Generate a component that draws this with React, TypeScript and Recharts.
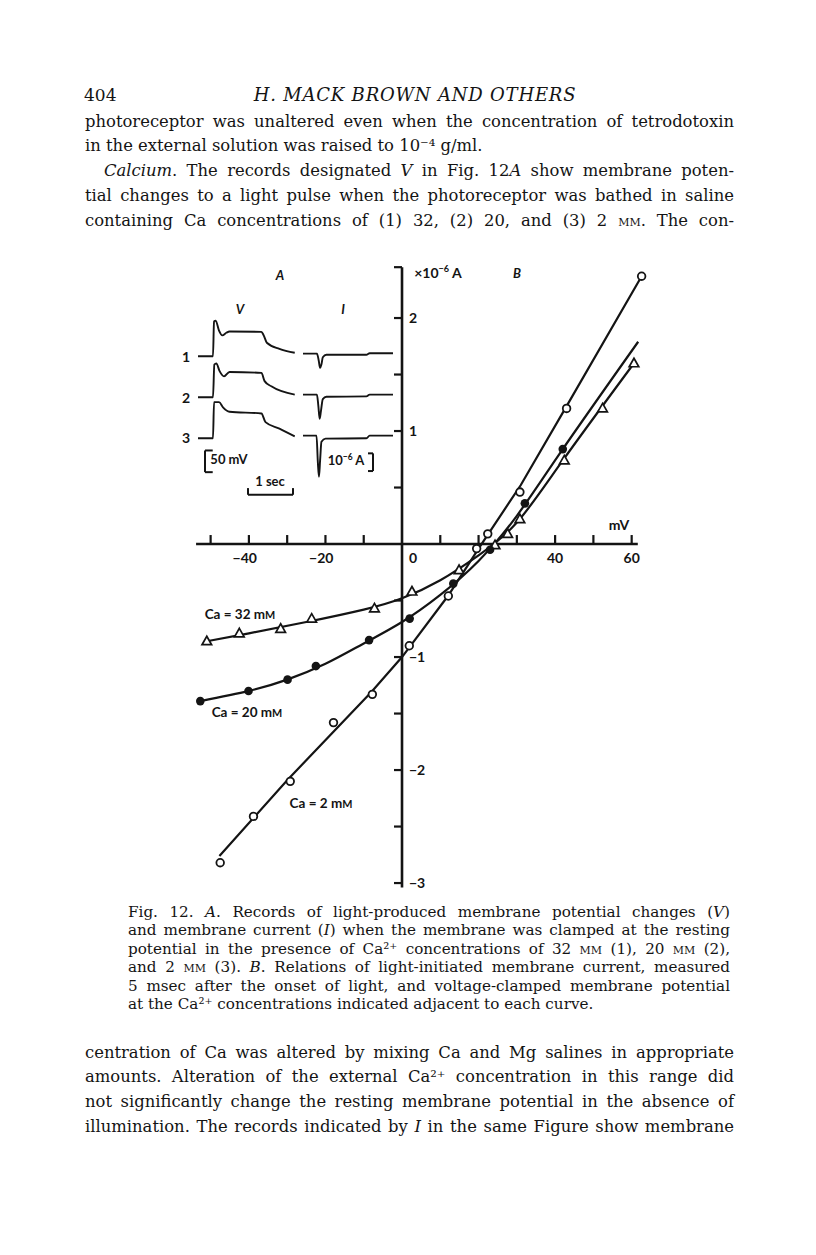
import React from 'react'
import {
  ComposedChart,
  LineChart,
  Line,
  Scatter,
  XAxis,
  YAxis,
  ReferenceLine,
  ReferenceDot,
} from 'recharts'

type Pair = [number, number]

// ---- Fig. 12B: light-initiated current (x10^-6 A) vs clamp potential (mV)
const ca32Points: Pair[] = [
  [-51, -0.86], [-42.5, -0.79], [-31.7, -0.75], [-23.6, -0.66], [-7.2, -0.57], [2.6, -0.42],
  [14.9, -0.23], [24.3, -0.01], [27.6, 0.09], [30.8, 0.22], [42.4, 0.74], [52.4, 1.2], [60.6, 1.6],
]
const ca20Points: Pair[] = [
  [-52.7, -1.39], [-40.1, -1.3], [-29.9, -1.2], [-22.5, -1.08], [-8.6, -0.85], [2, -0.66],
  [13.4, -0.35], [23, -0.05], [32.1, 0.36], [42, 0.84],
]
const ca2Points: Pair[] = [
  [-47.5, -2.82], [-38.8, -2.41], [-29.2, -2.1], [-17.9, -1.58], [-7.75, -1.33], [1.9, -0.9],
  [12.1, -0.46], [19.5, -0.04], [22.4, 0.09], [30.8, 0.46], [43, 1.2], [62.6, 2.37],
]
// hand-drawn curves through the points
const ca32Curve: Pair[] = [
  [-51, -0.86], [-40, -0.79], [-25, -0.69], [-10, -0.58], [0, -0.48], [10, -0.32],
  [20, -0.1], [30, 0.19], [42, 0.74], [60.6, 1.6],
]
const ca20Curve: Pair[] = [
  [-52.7, -1.39], [-40, -1.3], [-30, -1.2], [-20, -1.06], [-10, -0.88], [0, -0.69],
  [10, -0.45], [20, -0.15], [30, 0.25], [42, 0.84], [61.7, 1.79],
]
const ca2Curve: Pair[] = [
  [-47.7, -2.76], [-30, -2.09], [-8, -1.31], [0, -1.0], [12, -0.46], [20, -0.04],
  [31, 0.52], [43, 1.22], [62.6, 2.37],
]

const xTicks = [-50, -40, -30, -20, -10, 10, 20, 30, 40, 50, 60]
const xTickLabels = [-40, -20, 0, 40, 60]
const yTicks = [-3, -2.5, -2, -1.5, -1, -0.5, 0.5, 1, 1.5, 2, 2.45]
const yTickLabels = [2, 1, -1, -2, -3]

// ---- Fig. 12A: records, time in sec, V in mV above rest, I in 10^-6 A
const vTrace1: Pair[] = [
  [0, 0], [0.333, 0], [0.356, 80], [0.393, 82], [0.467, 59], [0.54, 48], [0.63, 54], [0.7, 57],
  [1.41, 56], [1.46, 48], [1.53, 31], [1.81, 17], [2.15, 8],
]
const vTrace2: Pair[] = [
  [0, 0], [0.333, 0], [0.363, 75], [0.407, 78], [0.48, 60], [0.578, 48], [0.7, 58], [1.41, 56],
  [1.48, 37], [1.63, 25], [2.15, 6],
]
const vTrace3: Pair[] = [
  [0, 0], [0.333, 0], [0.356, 83], [0.467, 83], [0.556, 71], [0.7, 61], [1.41, 57], [1.5, 37],
  [1.81, 22], [2.15, 4],
]
const iTrace1: Pair[] = [
  [0, 0], [0.31, 0], [0.35, -0.4], [0.378, -0.8], [0.41, -0.6], [0.44, -0.2], [0.52, -0.06],
  [1.41, -0.06], [1.48, 0.02], [2.0, 0.02],
]
const iTrace2: Pair[] = [
  [0, 0], [0.31, 0], [0.34, -0.6], [0.37, -1.36], [0.4, -0.9], [0.44, -0.25], [0.52, -0.12],
  [1.41, -0.1], [1.48, 0], [2.0, 0],
]
const iTrace3: Pair[] = [
  [0, 0], [0.3, 0], [0.33, -1.5], [0.355, -2.32], [0.38, -1.4], [0.41, -0.35], [0.5, -0.17],
  [1.41, -0.15], [1.48, 0], [2.0, 0],
]

const INK = '#141414'
const FIG_FONT = 'Lato, "Open Sans", sans-serif'
const TEXT_FONT = '"DejaVu Serif", serif'

const toXY = (pts: Pair[]) => pts.map(([x, y]) => ({ x, y }))

const OpenCircle = (p: any) => (
  <circle cx={p.cx} cy={p.cy} r={3.8} fill="#fff" stroke={INK} strokeWidth={1.8} />
)
const FilledCircle = (p: any) => <circle cx={p.cx} cy={p.cy} r={4.3} fill={INK} />
const OpenTriangle = (p: any) => (
  <path
    d={`M${p.cx},${p.cy - 5} L${p.cx + 4.8},${p.cy + 3.5} L${p.cx - 4.8},${p.cy + 3.5} Z`}
    fill="#fff"
    stroke={INK}
    strokeWidth={1.7}
  />
)

const fmt = (v: number) => (v < 0 ? `\u2212${-v}` : `${v}`)

function MainChart() {
  return (
    <div style={{ position: 'absolute', left: 180, top: 250 }}>
      <ComposedChart width={480} height={650} margin={{ top: 0, right: 0, bottom: 0, left: 0 }}>
        <XAxis type="number" dataKey="x" domain={[-58, 67.4]} hide />
        <YAxis type="number" dataKey="y" domain={[-3.15, 2.602]} hide />
        <ReferenceLine segment={[{ x: -53.8, y: 0 }, { x: 61.6, y: 0 }]} stroke={INK} strokeWidth={2.6} />
        <ReferenceLine segment={[{ x: 0, y: -3.04 }, { x: 0, y: 2.45 }]} stroke={INK} strokeWidth={2.6} />
        {xTicks.map((t) => (
          <ReferenceDot
            key={`xt${t}`}
            x={t}
            y={0}
            r={0}
            shape={(p: any) => (
              <line x1={p.cx} x2={p.cx} y1={p.cy} y2={p.cy - 9} stroke={INK} strokeWidth={2.2} />
            )}
          />
        ))}
        {yTicks.map((t) => (
          <ReferenceDot
            key={`yt${t}`}
            x={0}
            y={t}
            r={0}
            shape={(p: any) => (
              <line x1={p.cx} x2={p.cx - 8} y1={p.cy} y2={p.cy} stroke={INK} strokeWidth={2.2} />
            )}
          />
        ))}
        {xTickLabels.map((t) => (
          <ReferenceDot
            key={`xl${t}`}
            x={t}
            y={0}
            r={0}
            shape={(p: any) => (
              <text
                x={t < 0 ? p.cx + 8 : t === 0 ? p.cx + 7 : p.cx}
                y={p.cy + 19}
                textAnchor={t < 0 ? 'end' : t === 0 ? 'start' : 'middle'}
                fontFamily={FIG_FONT}
                fontWeight={700}
                fontSize={14}
                fill={INK}
              >
                {fmt(t)}
              </text>
            )}
          />
        ))}
        {yTickLabels.map((t) => (
          <ReferenceDot
            key={`yl${t}`}
            x={0}
            y={t}
            r={0}
            shape={(p: any) => (
              <text
                x={p.cx + 7}
                y={p.cy + 5}
                textAnchor="start"
                fontFamily={FIG_FONT}
                fontWeight={700}
                fontSize={14}
                fill={INK}
              >
                {fmt(t)}
              </text>
            )}
          />
        ))}
        <Line data={toXY(ca32Curve)} dataKey="y" type="natural" stroke={INK} strokeWidth={2.2} dot={false} isAnimationActive={false} />
        <Line data={toXY(ca20Curve)} dataKey="y" type="natural" stroke={INK} strokeWidth={2.2} dot={false} isAnimationActive={false} />
        <Line data={toXY(ca2Curve)} dataKey="y" type="linear" stroke={INK} strokeWidth={2.2} dot={false} isAnimationActive={false} />
        <Scatter data={toXY(ca32Points)} shape={OpenTriangle} isAnimationActive={false} />
        <Scatter data={toXY(ca20Points)} shape={FilledCircle} isAnimationActive={false} />
        <Scatter data={toXY(ca2Points)} shape={OpenCircle} isAnimationActive={false} />
      </ComposedChart>
    </div>
  )
}

// small record; zeroY is the page position of the trace's resting level
function Record({
  data, left, zeroY, tMax, yMin, yMax, pxT, pxY, children,
}: {
  data: Pair[]; left: number; zeroY: number; tMax: number; yMin: number; yMax: number
  pxT: number; pxY: number; children?: React.ReactNode
}) {
  const pad = 3
  const width = tMax * pxT + 2 * pad
  const height = (yMax - yMin) * pxY + 2 * pad
  const top = zeroY - yMax * pxY - pad
  return (
    <div style={{ position: 'absolute', left: left - pad, top }}>
      <LineChart width={width} height={height} data={toXY(data)} margin={{ top: pad, right: pad, bottom: pad, left: pad }}>
        <XAxis type="number" dataKey="x" domain={[0, tMax]} hide />
        <YAxis type="number" domain={[yMin, yMax]} hide />
        <Line dataKey="y" type="monotone" stroke={INK} strokeWidth={1.9} dot={false} isAnimationActive={false} />
        {children}
      </LineChart>
    </div>
  )
}

const V_PX_T = 45
const V_PX_MV = 0.434
const I_PX_UA = 17.7

function FigText({ x, y, size = 13, italic = false, children }: { x: number; y: number; size?: number; italic?: boolean; children: React.ReactNode }) {
  return (
    <div
      style={{
        position: 'absolute', left: x, top: y, transform: 'translate(-50%,-50%)',
        fontFamily: FIG_FONT, fontWeight: 700, fontSize: size, fontStyle: italic ? 'italic' : 'normal',
        whiteSpace: 'nowrap', color: INK, lineHeight: 1,
      }}
    >
      {children}
    </div>
  )
}

const smallM = <span style={{ fontSize: '0.8em' }}>M</span>

function Inset() {
  const seg = (a: Pair, b: Pair) => (
    <ReferenceLine segment={[{ x: a[0], y: a[1] }, { x: b[0], y: b[1] }]} stroke={INK} strokeWidth={2} />
  )
  return (
    <>
      <Record data={vTrace1} left={198.3} zeroY={355.7} tMax={2.15} yMin={-4} yMax={88} pxT={V_PX_T} pxY={V_PX_MV} />
      <Record data={vTrace2} left={198.3} zeroY={397.3} tMax={2.15} yMin={-4} yMax={88} pxT={V_PX_T} pxY={V_PX_MV} />
      <Record data={vTrace3} left={198.3} zeroY={437.7} tMax={2.15} yMin={-133} yMax={88} pxT={V_PX_T} pxY={V_PX_MV}>
        {seg([0.156, -28.3], [0.156, -78.3])}
        {seg([0.156, -28.3], [0.327, -28.3])}
        {seg([0.156, -78.3], [0.327, -78.3])}
        {seg([1.111, -130.4], [2.111, -130.4])}
        {seg([1.111, -130.4], [1.111, -115])}
        {seg([2.111, -130.4], [2.111, -115])}
      </Record>
      <Record data={iTrace1} left={303.3} zeroY={353.3} tMax={2.0} yMin={-1.0} yMax={0.15} pxT={V_PX_T} pxY={I_PX_UA} />
      <Record data={iTrace2} left={303.3} zeroY={395} tMax={2.0} yMin={-1.5} yMax={0.15} pxT={V_PX_T} pxY={I_PX_UA} />
      <Record data={iTrace3} left={303.3} zeroY={435.7} tMax={2.0} yMin={-2.45} yMax={0.15} pxT={V_PX_T} pxY={I_PX_UA}>
        {seg([1.556, -1], [1.556, -2])}
        {seg([1.444, -1], [1.556, -1])}
        {seg([1.444, -2], [1.556, -2])}
      </Record>
      <FigText x={280} y={275} size={13} italic>A</FigText>
      <FigText x={240} y={309} size={13} italic>V</FigText>
      <FigText x={343} y={309} size={13} italic>I</FigText>
      <FigText x={186} y={357} size={14}>1</FigText>
      <FigText x={186} y={398} size={14}>2</FigText>
      <FigText x={186} y={438} size={14}>3</FigText>
      <FigText x={229} y={459} size={13}>50 mV</FigText>
      <FigText x={346} y={460} size={13}>10<sup style={{ fontSize: '0.65em' }}>{'\u22126'}</sup> A</FigText>
      <FigText x={270} y={481} size={13}>1 sec</FigText>
      <FigText x={438} y={272} size={14}>{'\u00d7'}10<sup style={{ fontSize: '0.65em' }}>{'\u22126'}</sup> A</FigText>
      <FigText x={517} y={273} size={13} italic>B</FigText>
      <FigText x={619} y={525} size={14}>mV</FigText>
      <FigText x={240} y={615} size={13.5}>Ca = 32 m{smallM}</FigText>
      <FigText x={247} y={713} size={13.5}>Ca = 20 m{smallM}</FigText>
      <FigText x={321} y={804} size={13.5}>Ca = 2 m{smallM}</FigText>
    </>
  )
}

type TextLine = { y: number; content: React.ReactNode; justify: boolean; indent?: number }

const sc = (s: string) => <span style={{ fontVariant: 'small-caps' }}>{s}</span>
const it = (s: string) => <i>{s}</i>

const BODY_LH = 24.75
const topLines: TextLine[] = [
  { y: 122, justify: true, content: 'photoreceptor was unaltered even when the concentration of tetrodotoxin' },
  { y: 122 + BODY_LH, justify: false, content: 'in the external solution was raised to 10\u207b\u2074 g/ml.' },
  { y: 122 + 2 * BODY_LH, justify: true, indent: 19, content: <>{it('Calcium')}. The records designated {it('V')} in Fig. 12{it('A')} show membrane poten-</> },
  { y: 122 + 3 * BODY_LH, justify: true, content: 'tial changes to a light pulse when the photoreceptor was bathed in saline' },
  { y: 122 + 4 * BODY_LH, justify: true, content: <>containing Ca concentrations of (1) 32, (2) 20, and (3) 2 {sc('mm')}. The con-</> },
]
const bottomLines: TextLine[] = [
  { y: 1053, justify: true, content: 'centration of Ca was altered by mixing Ca and Mg salines in appropriate' },
  { y: 1053 + BODY_LH, justify: true, content: 'amounts. Alteration of the external Ca\u00b2\u207a concentration in this range did' },
  { y: 1053 + 2 * BODY_LH, justify: true, content: 'not significantly change the resting membrane potential in the absence of' },
  { y: 1053 + 3 * BODY_LH, justify: true, content: <>illumination. The records indicated by {it('I')} in the same Figure show membrane</> },
]
const CAP_LH = 18.5
const captionLines: TextLine[] = [
  { y: 912, justify: true, content: <>Fig. 12. {it('A')}. Records of light-produced membrane potential changes ({it('V')})</> },
  { y: 912 + CAP_LH, justify: true, content: <>and membrane current ({it('I')}) when the membrane was clamped at the resting</> },
  { y: 912 + 2 * CAP_LH, justify: true, content: <>potential in the presence of Ca{'\u00b2\u207a'} concentrations of 32 {sc('mm')} (1), 20 {sc('mm')} (2),</> },
  { y: 912 + 3 * CAP_LH, justify: true, content: <>and 2 {sc('mm')} (3). {it('B')}. Relations of light-initiated membrane current, measured</> },
  { y: 912 + 4 * CAP_LH, justify: true, content: '5 msec after the onset of light, and voltage-clamped membrane potential' },
  { y: 912 + 5 * CAP_LH, justify: false, content: <>at the Ca{'\u00b2\u207a'} concentrations indicated adjacent to each curve.</> },
]

function TextBlock({ lines, left, width, size, lh }: { lines: TextLine[]; left: number; width: number; size: number; lh: number }) {
  return (
    <>
      {lines.map((l, i) => (
        <div
          key={i}
          style={{
            position: 'absolute', left: left + (l.indent ?? 0), width: width - (l.indent ?? 0),
            top: l.y - lh / 2, height: lh, lineHeight: `${lh}px`, fontFamily: TEXT_FONT, fontSize: size,
            color: INK, whiteSpace: 'nowrap', textAlign: l.justify ? 'justify' : 'left',
            textAlignLast: l.justify ? 'justify' : 'left',
          }}
        >
          {l.content}
        </div>
      ))}
    </>
  )
}

export default function App() {
  return (
    <div style={{ position: 'absolute', left: 0, top: 0, width: 816, height: 1255, background: '#fff', overflow: 'hidden' }}>
      <div style={{ position: 'absolute', left: 84, top: 84, fontFamily: TEXT_FONT, fontSize: 17, lineHeight: '22px', color: INK }}>404</div>
      <div
        style={{
          position: 'absolute', left: 415, top: 84, transform: 'translateX(-50%)', fontFamily: TEXT_FONT,
          fontSize: 18, fontStyle: 'italic', letterSpacing: 0.8, lineHeight: '22px', color: INK, whiteSpace: 'nowrap',
        }}
      >
        H. MACK BROWN AND OTHERS
      </div>
      <TextBlock lines={topLines} left={85} width={649} size={16.4} lh={BODY_LH} />
      <MainChart />
      <Inset />
      <TextBlock lines={captionLines} left={128} width={602} size={15.2} lh={CAP_LH} />
      <TextBlock lines={bottomLines} left={85} width={649} size={16.4} lh={BODY_LH} />
    </div>
  )
}
